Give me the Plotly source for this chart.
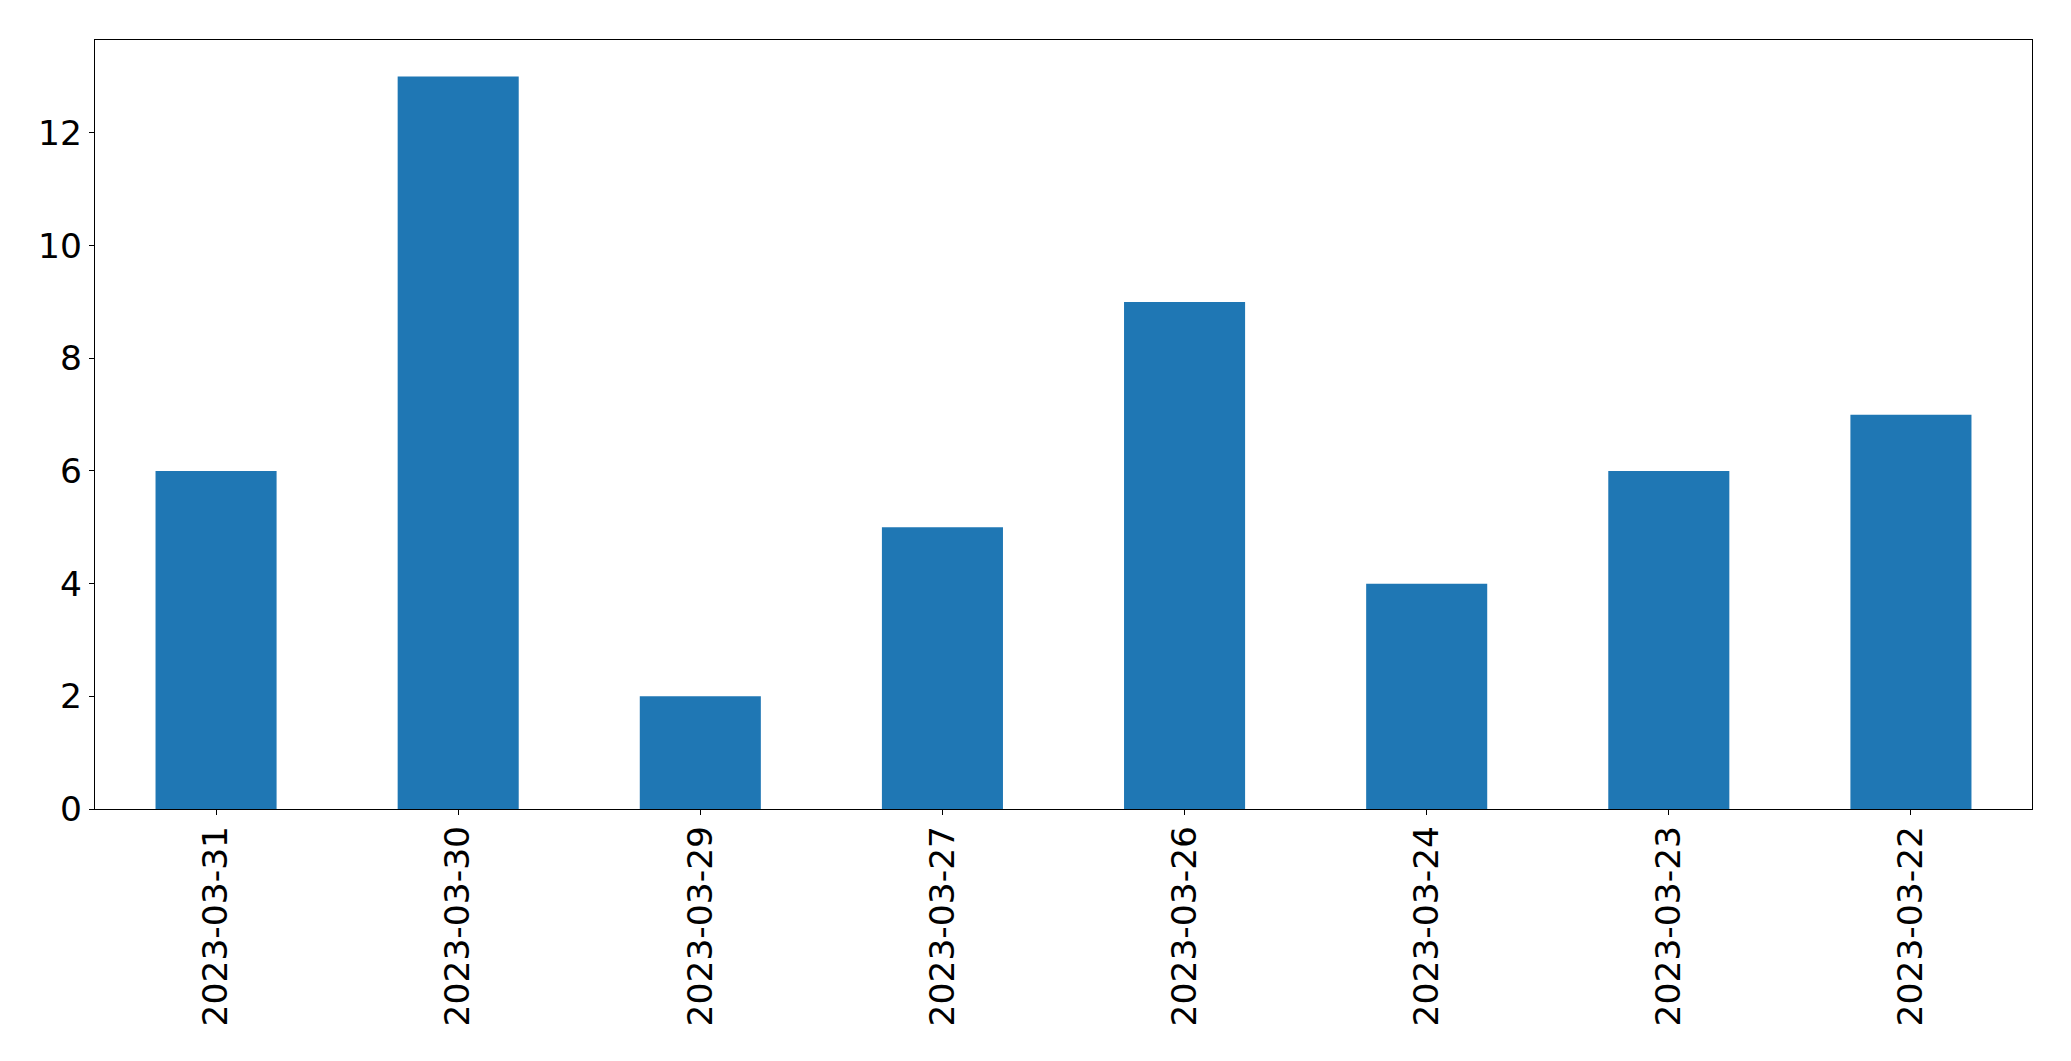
import plotly.graph_objects as go

dates = ["2023-03-31", "2023-03-30", "2023-03-29", "2023-03-27",
         "2023-03-26", "2023-03-24", "2023-03-23", "2023-03-22"]
counts = [6, 13, 2, 5, 9, 4, 6, 7]
y_ticks = [0, 2, 4, 6, 8, 10, 12]

fig = go.Figure(go.Bar(x=dates, y=counts, marker=dict(color="#1f77b4", line=dict(width=0)), width=0.5))

font = dict(family="DejaVu Sans", size=34.5, color="black")
# page body has an 8px default margin, so shift/shrink the figure accordingly
fig.update_layout(
    width=2063, height=1053,
    margin=dict(l=87, r=39, t=32, b=252, pad=0),
    paper_bgcolor="white", plot_bgcolor="white",
    showlegend=False, font=font,
)
fig.update_xaxes(
    type="category", range=[-0.5, 7.5], tickangle=-90,
    showline=True, mirror=True, linecolor="black", linewidth=1.3,
    ticks="outside", ticklen=5, tickwidth=1.3, tickcolor="black",
    showgrid=False, zeroline=False, tickfont=font, ticklabelstandoff=-3,
)
fig.update_yaxes(
    range=[0, 13.65], tickvals=y_ticks,
    showline=True, mirror=True, linecolor="black", linewidth=1.3,
    ticks="outside", ticklen=5, tickwidth=1.3, tickcolor="black",
    showgrid=False, zeroline=False, tickfont=font, ticklabelstandoff=0,
)
fig.write_html("out.html")
